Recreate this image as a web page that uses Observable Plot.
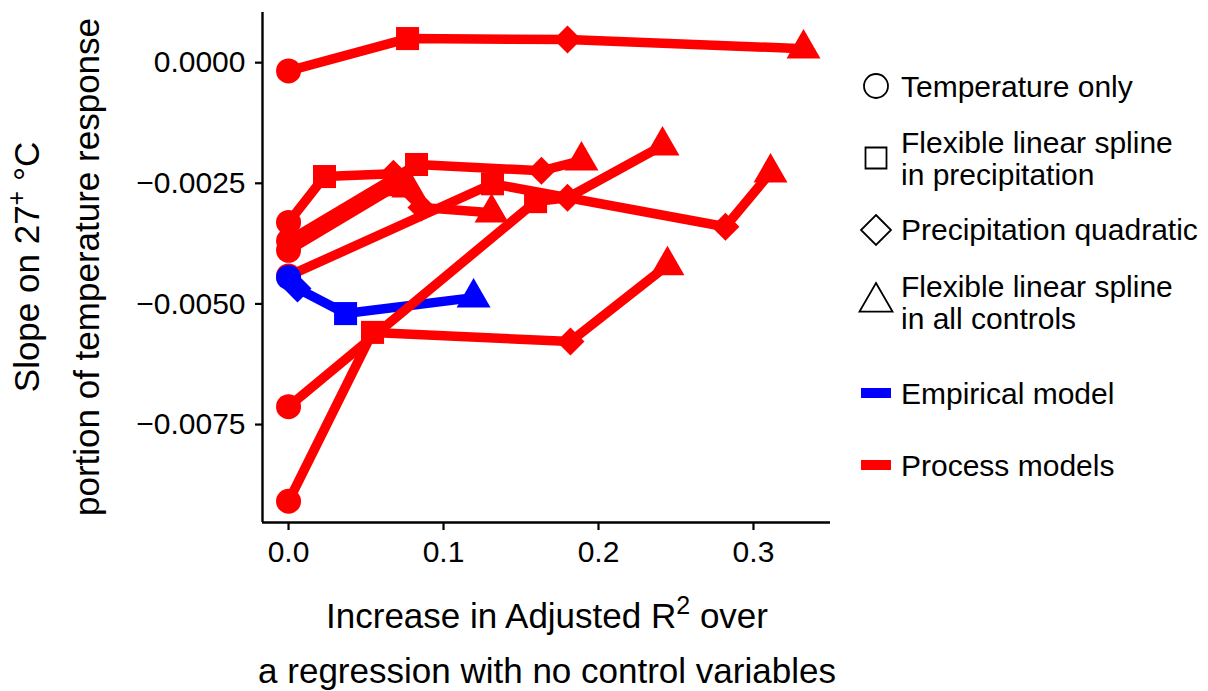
<!DOCTYPE html>
<html>
<head>
<meta charset="utf-8">
<script src="https://cdn.jsdelivr.net/npm/d3@7"></script>
<script src="https://cdn.jsdelivr.net/npm/@observablehq/plot@0.6"></script>
<style>
html, body { margin: 0; padding: 0; background: #fff; }
#wrap { position: relative; width: 1208px; height: 691px; font-family: "Liberation Sans", Arial, Helvetica, sans-serif; }
#wrap > svg { position: absolute; left: 0; top: 0; }
</style>
</head>
<body>
<div id="wrap"></div>
<script>
// ---- data ----
const models = ["Empirical", "Process 1", "Process 2", "Process 3", "Process 4", "Process 5", "Process 6", "Process 7"];
const modelType = ["Empirical model", "Process models", "Process models", "Process models", "Process models", "Process models", "Process models", "Process models"];
const specs = ["Temperature only", "Flexible linear spline in precipitation", "Precipitation quadratic", "Flexible linear spline in all controls"];
const typeNames = ["Empirical model", "Process models"];

// increase in adjusted R² (x) and slope (y) for each specification, one value per model
const r2TempOnly       = [0, 0, 0, 0, 0, 0, 0, 0];
const slopeTempOnly    = [-0.00445, -0.00017, -0.00331, -0.00369, -0.00389, -0.00442, -0.00713, -0.00909];
const r2PrecipSpline    = [0.0368, 0.0768, 0.0232, 0.0826, 0.0710, 0.1316, 0.1594, 0.0542];
const slopePrecipSpline = [-0.00520, 0.00050, -0.00236, -0.00211, -0.00253, -0.00251, -0.00288, -0.00559];
const r2PrecipQuad      = [0.0058, 0.1800, 0.0677, 0.1632, 0.0858, 0.2819, 0.1800, 0.1819];
const slopePrecipQuad   = [-0.00468, 0.00048, -0.00230, -0.00224, -0.00300, -0.00340, -0.00280, -0.00578];
const r2AllSpline       = [0.1194, 0.3323, 0.0774, 0.1890, 0.1310, 0.3110, 0.2413, 0.2445];
const slopeAllSpline    = [-0.00487, 0.00029, -0.00259, -0.00203, -0.00311, -0.00228, -0.00172, -0.00420];

const xTicks = [0, 0.1, 0.2, 0.3];
const yTicks = [0, -0.0025, -0.005, -0.0075];
const xDomain = [-0.0168, 0.3497];
const yDomain = [-0.00953, 0.00104];

// ---- build table ----
const xs = [r2TempOnly, r2PrecipSpline, r2PrecipQuad, r2AllSpline];
const ys = [slopeTempOnly, slopePrecipSpline, slopePrecipQuad, slopeAllSpline];
const rows = [];
models.forEach((m, i) => {
  specs.forEach((s, j) => {
    rows.push({model: m, type: modelType[i], spec: s, x: xs[j][i], y: ys[j][i]});
  });
});
// ggplot's geom_line joins points in x order
const sorted = rows.slice().sort((a, b) => d3.ascending(models.indexOf(a.model), models.indexOf(b.model)) || d3.ascending(a.x, b.x));

const markerR = [12.5, 13, 12.6, 12.6];
const FONT = '"Liberation Sans", Arial, Helvetica, sans-serif';

const lineOpts = {x: "x", y: "y", z: "model", stroke: "type", strokeWidth: 9.5, strokeLinecap: "butt", strokeLinejoin: "round"};
const dotMarks = [];
for (const t of ["Process models", "Empirical model"]) {
  specs.forEach((s, j) => {
    dotMarks.push(Plot.dot(rows, {filter: d => d.type === t && d.spec === s, x: "x", y: "y", symbol: "spec", fill: "type", stroke: "none", r: markerR[j]}));
  });
}

const chart = Plot.plot({
  width: 1208,
  height: 691,
  marginLeft: 262,
  marginRight: 378,
  marginTop: 12,
  marginBottom: 169,
  style: {fontFamily: FONT, fontSize: "30px", color: "#000", background: "transparent", overflow: "visible"},
  x: {domain: xDomain},
  y: {domain: yDomain},
  symbol: {domain: specs, range: ["circle", "square", "diamond2", "triangle"]},
  color: {domain: typeNames, range: ["#0000ff", "#ff0000"]},
  marks: [
    Plot.axisX({ticks: xTicks, tickFormat: d3.format(".1f"), tickSize: 8, tickPadding: 10, strokeWidth: 2.2, fontSize: 30, label: null}),
    Plot.axisY({ticks: yTicks, tickFormat: d3.format(".4f"), tickSize: 7, tickPadding: 10, strokeWidth: 2.2, fontSize: 30, label: null}),
    Plot.ruleX([xDomain[0]], {stroke: "#000", strokeWidth: 2.4}),
    Plot.ruleY([yDomain[0]], {stroke: "#000", strokeWidth: 2.4}),
    Plot.line(sorted.filter(d => d.type === "Empirical model"), lineOpts),
    Plot.line(sorted.filter(d => d.type === "Process models"), lineOpts),
    ...dotMarks
  ]
});
document.getElementById("wrap").appendChild(chart);

// ---- overlay: axis titles and legend ----
const ov = d3.select("#wrap").append("svg")
  .attr("width", 1208).attr("height", 691)
  .style("font-family", FONT).style("pointer-events", "none");

// x title
const xt = ov.append("text").attr("text-anchor", "middle").attr("font-size", 35).attr("fill", "#000");
const xl1 = xt.append("tspan").attr("x", 547).attr("y", 628);
xl1.append("tspan").text("Increase in Adjusted R");
xl1.append("tspan").attr("dy", -14).attr("font-size", 25).text("2");
xl1.append("tspan").attr("dy", 14).text(" over");
xt.append("tspan").attr("x", 547).attr("y", 683).text("a regression with no control variables");

// y title
const yt = ov.append("g").attr("transform", "translate(0,267) rotate(-90)");
const yl1 = yt.append("text").attr("text-anchor", "middle").attr("font-size", 35).attr("fill", "#000").attr("x", 0).attr("y", 39);
yl1.append("tspan").text("Slope on 27");
yl1.append("tspan").attr("dy", -14).attr("font-size", 25).text("+");
yl1.append("tspan").attr("dy", 14).text(" °C");
yt.append("text").attr("text-anchor", "middle").attr("font-size", 35).attr("fill", "#000").attr("x", 0).attr("y", 99)
  .text("portion of temperature response");

// legend
const legendShapes = [
  {sym: d3.symbolCircle, size: Math.PI * 12 * 12, cy: 86},
  {sym: d3.symbolSquare, size: 21 * 21, cy: 158},
  {sym: d3.symbolDiamond2, size: Math.pow(15 / 0.62625, 2), cy: 230},
  {sym: d3.symbolTriangle, size: Math.pow(33 / (2 * Math.sqrt(3)), 2) * 3 * Math.sqrt(3), cy: 302}
];
legendShapes.forEach(s => {
  ov.append("path").attr("d", d3.symbol(s.sym, s.size)())
    .attr("transform", `translate(876,${s.cy})`)
    .attr("fill", "none").attr("stroke", "#000").attr("stroke-width", 1.8);
});
const legendTexts = [
  {lines: [specs[0]], y: 97},
  {lines: ["Flexible linear spline", "in precipitation"], y: 153},
  {lines: [specs[2]], y: 240},
  {lines: ["Flexible linear spline", "in all controls"], y: 297},
  {lines: [typeNames[0]], y: 404},
  {lines: [typeNames[1]], y: 476}
];
legendTexts.forEach(t => {
  const tx = ov.append("text").attr("font-size", 30).attr("fill", "#000");
  t.lines.forEach((l, k) => tx.append("tspan").attr("x", 901).attr("y", t.y + k * 32).text(l));
});
ov.append("rect").attr("x", 861).attr("y", 388).attr("width", 30).attr("height", 10).attr("fill", "#0000ff");
ov.append("rect").attr("x", 861).attr("y", 460).attr("width", 30).attr("height", 10).attr("fill", "#ff0000");
</script>
</body>
</html>
